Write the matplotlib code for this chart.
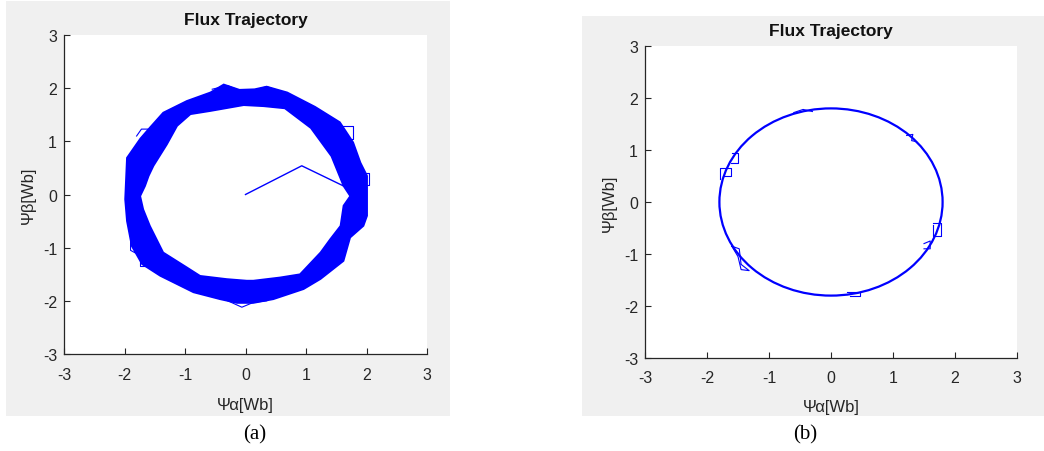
import matplotlib
matplotlib.use("Agg")
import matplotlib.pyplot as plt
from matplotlib.path import Path
from matplotlib.patches import PathPatch, Circle, Rectangle

plt.rcParams['font.family'] = ['Liberation Sans', 'DejaVu Sans']

# ---------------- data ----------------
ticks = [-3, -2, -1, 0, 1, 2, 3]
tick_labels = ['-3', '-2', '-1', '0', '1', '2', '3']

# (a) thick flux band: outer and inner boundaries
outer_a_x = [2.01, 2.01, 2.01, 1.9, 1.78, 1.56, 1.15, 0.69, 0.35, 0.15, -0.1, -0.36, -0.58, -0.97,
             -1.36, -1.58, -1.74, -1.96, -1.99, -1.96, -1.88, -1.71, -1.41, -0.86, -0.42, -0.14,
             0.13, 0.46, 0.96, 1.24, 1.62, 1.73, 1.95]
outer_a_y = [-0.40, 0.10, 0.35, 0.6, 0.98, 1.36, 1.65, 1.92, 2.03, 1.98, 1.97, 2.07, 1.92, 1.76,
             1.54, 1.26, 1.05, 0.69, -0.09, -0.50, -0.97, -1.31, -1.53, -1.84, -1.97, -2.04,
             -2.04, -1.97, -1.78, -1.59, -1.25, -0.81, -0.59]
inner_a_x = [1.62, 1.73, 1.62, 1.42, 1.08, 0.65, 0.3, -0.03, -0.58, -0.91, -1.13, -1.30, -1.52,
             -1.60, -1.66, -1.74, -1.69, -1.58, -1.36, -0.97, -0.75, -0.31, 0.02, 0.13, 0.57,
             0.90, 1.24, 1.40, 1.57]
inner_a_y = [-0.21, -0.03, 0.16, 0.72, 1.25, 1.62, 1.66, 1.68, 1.57, 1.51, 1.29, 0.94, 0.54,
             0.35, 0.16, -0.03, -0.28, -0.59, -1.09, -1.37, -1.53, -1.59, -1.62, -1.62, -1.56,
             -1.50, -1.09, -0.84, -0.59]
# (a) start-up transient
start_a_x = [0.0, 0.93, 1.73]
start_a_y = [0.0, 0.54, 0.10]
# (a) stray loops outside the band
stray_a = [
    ([-1.8, -1.72, -1.61, -1.61, -1.7], [1.1, 1.23, 1.23, 0.95, 0.91]),
    ([-1.9, -1.9, -1.82, -1.82], [-0.6, -1.05, -1.1, -0.7]),
    ([-1.78, -1.55, -1.55, -1.75, -1.75], [-1.15, -1.15, -1.35, -1.35, -1.2]),
    ([1.57, 1.77, 1.77, 1.62], [1.28, 1.28, 1.04, 1.04]),
    ([1.98, 2.04, 2.04, 1.98], [0.4, 0.4, 0.18, 0.18]),
    ([-0.35, -0.06, 0.13, 0.35], [-1.97, -2.12, -2.03, -2.0]),
    ([-0.55, -0.3, -0.15], [1.98, 2.05, 1.98]),
    ([0.2, 0.35, 0.5], [1.98, 2.03, 1.97]),
]

# (b) flux circle and small kinks at sector changes
center_b = (0.0, 0.0)
radius_b = 1.8
kinks_b = [
    ([-1.79, -1.79, -1.62, -1.62, -1.75], [0.45, 0.65, 0.65, 0.5, 0.5]),
    ([-1.6, -1.5, -1.5, -1.62], [0.95, 0.95, 0.75, 0.75]),
    ([-1.6, -1.48, -1.45, -1.32, -1.45, -1.5, -1.6], [-0.85, -0.9, -1.2, -1.32, -1.3, -1.05, -0.85]),
    ([1.5, 1.6, 1.6, 1.5], [-0.9, -0.9, -0.75, -0.8]),
    ([1.65, 1.78, 1.78, 1.65, 1.65], [-0.4, -0.4, -0.65, -0.65, -0.45]),
    ([0.25, 0.47, 0.47, 0.3], [-1.74, -1.74, -1.8, -1.8]),
    ([-0.6, -0.45, -0.3], [1.72, 1.78, 1.74]),
    ([1.22, 1.32, 1.3, 1.38], [1.28, 1.3, 1.18, 1.16]),
]

BLUE = '#0000ff'
GRAY_TXT = '#262626'

fig = plt.figure(figsize=(10.44, 4.52), dpi=100)
W, H = 1044, 452

def frect(x0, y0, x1, y1):
    return [x0 / W, 1 - y1 / H, (x1 - x0) / W, (y1 - y0) / H]

# gray figure panels (drawn below the axes)
for (x0, y0, x1, y1) in [(6, 2, 450, 417), (582, 17, 1044, 417)]:
    r = frect(x0, y0, x1, y1)
    fig.patches.append(Rectangle((r[0], r[1]), r[2], r[3], transform=fig.transFigure,
                                 facecolor='#f0f0f0', edgecolor='none', zorder=-5))

axA = fig.add_axes(frect(64, 36, 427, 355))
axB = fig.add_axes(frect(645, 47, 1017, 359))

for ax in (axA, axB):
    ax.set_zorder(1)
    ax.set_xlim(-3, 3)
    ax.set_ylim(-3, 3)
    ax.set_xticks(ticks)
    ax.set_xticklabels(tick_labels)
    ax.set_yticks(ticks)
    ax.set_yticklabels(tick_labels)
    ax.spines['top'].set_visible(False)
    ax.spines['right'].set_visible(False)
    for s in ('left', 'bottom'):
        ax.spines[s].set_color(GRAY_TXT)
        ax.spines[s].set_linewidth(0.9)
    ax.tick_params(direction='in', length=4, width=0.8, color=GRAY_TXT,
                   labelcolor=GRAY_TXT, labelsize=11.5)
    ax.tick_params(axis='x', pad=9)
    ax.tick_params(axis='y', pad=5)
    ax.set_title('Flux Trajectory', fontsize=12.5, fontweight='bold', color='#111111', pad=8)
    ax.set_xlabel('Ψα[Wb]', fontsize=12, color=GRAY_TXT)
    ax.set_ylabel('Ψβ[Wb]', fontsize=12, color=GRAY_TXT)
    ax.xaxis.label.set_va('center')
    ax.yaxis.label.set_va('center')

axA.xaxis.set_label_coords(0.5, -0.157)
axA.yaxis.set_label_coords(-0.099, 0.5)
axB.xaxis.set_label_coords(0.5, -0.154)
axB.yaxis.set_label_coords(-0.097, 0.5)

# ---- (a) ----
verts = list(zip(outer_a_x, outer_a_y)) + [(outer_a_x[0], outer_a_y[0])]
codes = [Path.MOVETO] + [Path.LINETO] * (len(outer_a_x) - 1) + [Path.CLOSEPOLY]
inner = list(zip(inner_a_x, inner_a_y))[::-1]
verts += inner + [inner[0]]
codes += [Path.MOVETO] + [Path.LINETO] * (len(inner) - 1) + [Path.CLOSEPOLY]
axA.add_patch(PathPatch(Path(verts, codes), facecolor=BLUE, edgecolor=BLUE, lw=1.2))
for sx, sy in stray_a:
    axA.plot(sx, sy, color=BLUE, lw=0.8)
axA.plot(start_a_x, start_a_y, color=BLUE, lw=1.0)

# ---- (b) ----
axB.add_patch(Circle(center_b, radius_b, facecolor='none', edgecolor=BLUE, lw=1.6))
for kx, ky in kinks_b:
    axB.plot(kx, ky, color=BLUE, lw=0.8)

# captions
fig.text(255 / W, 1 - 435 / H, '(a)', family=['Liberation Serif'], fontsize=15,
         ha='center', va='center', color='black')
fig.text(805 / W, 1 - 435 / H, '(b)', family=['Liberation Serif'], fontsize=15,
         ha='center', va='center', color='black')

fig.savefig('out.png', dpi=100, facecolor='white')
